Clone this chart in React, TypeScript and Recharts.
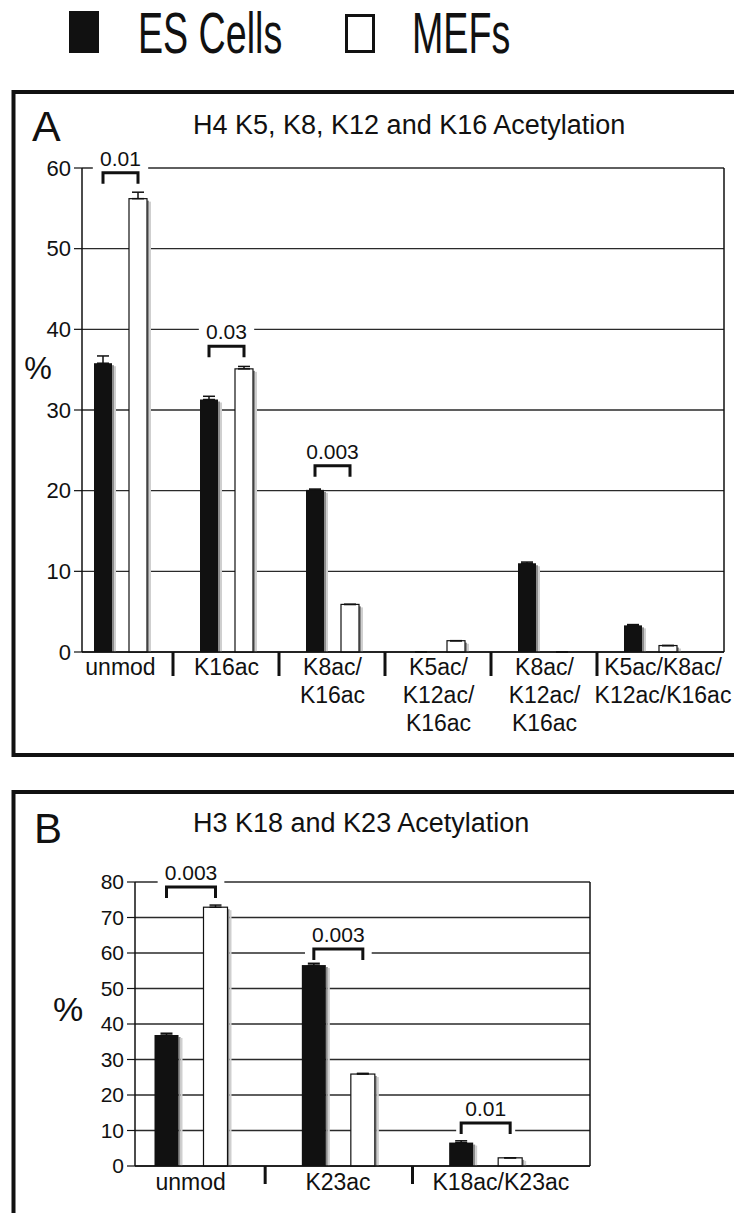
import React from 'react'
import { BarChart, Bar, XAxis, YAxis, CartesianGrid, ErrorBar } from 'recharts'

// ─── Shared look ─────────────────────────────────────────────────────────────

const FONT = '"Liberation Sans", Arial, Helvetica, sans-serif'
const INK = '#111'
const GRID = '#2a2a2a'

// ─── Panel A: H4 K5, K8, K12 and K16 acetylation ─────────────────────────────

const catsA = [
  'unmod',
  'K16ac',
  'K8ac/\nK16ac',
  'K5ac/\nK12ac/\nK16ac',
  'K8ac/\nK12ac/\nK16ac',
  'K5ac/K8ac/\nK12ac/K16ac',
]
const esA = [35.8, 31.3, 20.1, 0, 11.0, 3.3]
const esErrA = [0.9, 0.4, 0.1, 0, 0.15, 0.1]
const mefA = [56.2, 35.1, 5.9, 1.4, 0, 0.8]
const mefErrA = [0.8, 0.3, 0, 0, 0, 0]
const pA = ['0.01', '0.03', '0.003', null, null, null]
const bracketA = [59.4, 37.9, 23.1, null, null, null] // height of the p-value bracket
const ticksA = [0, 10, 20, 30, 40, 50, 60]

// ─── Panel B: H3 K18 and K23 acetylation ─────────────────────────────────────

const catsB = ['unmod', 'K23ac', 'K18ac/K23ac']
const esB = [36.9, 56.6, 6.6]
const esErrB = [0.5, 0.5, 0.5]
const mefB = [72.9, 25.9, 2.3]
const mefErrB = [0.6, 0.2, 0]
const pB = ['0.003', '0.003', '0.01']
const bracketB = [78.6, 61.1, 12.1]
const ticksB = [0, 10, 20, 30, 40, 50, 60, 70, 80]

// ─── Helpers ─────────────────────────────────────────────────────────────────

interface Row {
  cat: string
  es: number
  esErr: number
  mef: number
  mefErr: number
  sig: number | null
  p: string | null
}

function buildRows(
  cats: string[],
  es: number[],
  esErr: number[],
  mef: number[],
  mefErr: number[],
  sig: (number | null)[],
  p: (string | null)[],
): Row[] {
  return cats.map((cat, i) => ({
    cat,
    es: es[i],
    esErr: esErr[i],
    mef: mef[i],
    mefErr: mefErr[i],
    sig: sig[i],
    p: p[i],
  }))
}

// bar with the soft grey drop shadow on its right side
function ShadedBar(props: any) {
  const { x, y, width, height, fill } = props
  if (!height || height <= 0 || isNaN(y)) return null
  const isWhite = fill !== INK
  return (
    <g>
      <rect x={x + width} y={y + 2} width={2} height={Math.max(0, height - 2)} fill="#8c8c8c" />
      <rect x={x + width + 2} y={y + 3} width={2} height={Math.max(0, height - 3)} fill="#cfcfcf" />
      <rect
        x={x}
        y={y}
        width={width}
        height={height}
        fill={fill}
        stroke={isWhite ? INK : 'none'}
        strokeWidth={isWhite ? 1.2 : 0}
      />
    </g>
  )
}

// the third (invisible) bar slot carries the significance bracket
function makeBracket(barSize: number, gap: number, legH: number) {
  return function Bracket(props: any) {
    const { x, y, payload } = props
    if (!payload || payload.sig == null || !payload.p || isNaN(y)) return null
    const left = x - 2 * (barSize + gap) + barSize / 2
    const right = x - (barSize + gap) + barSize / 2
    const mid = (left + right) / 2
    const fs = 21
    const tw = payload.p.length * fs * 0.54
    const boxL = Math.min(left, mid - tw / 2) - 5
    const boxR = Math.max(right, mid + tw / 2) + 5
    const boxT = y - 8 - fs * 0.8
    return (
      <g>
        <rect x={boxL} y={boxT} width={boxR - boxL} height={y + legH + 1 - boxT} fill="#fff" />
        <path
          d={`M${left},${y + legH}V${y}H${right}V${y + legH}`}
          fill="none"
          stroke={INK}
          strokeWidth={3}
        />
        <text x={mid} y={y - 7} textAnchor="middle" fontSize={fs} fontFamily={FONT} fill={INK}>
          {payload.p}
        </text>
      </g>
    )
  }
}

function CatTick(props: any) {
  const { x, y, payload, index, count, shift, lastShift, sepOffset, sepLen, firstDy } = props
  const lines = String(payload.value).split('\n')
  const cx = x + (index === count - 1 ? lastShift : shift)
  return (
    <g>
      <text x={cx} y={y + firstDy} textAnchor="middle" fontSize={23} fontFamily={FONT} fill={INK}>
        {lines.map((l, i) => (
          <tspan key={i} x={cx} dy={i === 0 ? 0 : 28}>
            {l}
          </tspan>
        ))}
      </text>
      {index < count - 1 && (
        <line
          x1={x + sepOffset}
          x2={x + sepOffset}
          y1={y}
          y2={y + sepLen}
          stroke={INK}
          strokeWidth={3}
        />
      )}
    </g>
  )
}

// ─── One panel chart ─────────────────────────────────────────────────────────

interface PanelProps {
  data: Row[]
  ticks: number[]
  width: number
  height: number
  margin: { top: number; right: number; bottom: number; left: number }
  yWidth: number
  xHeight: number
  xPad: number
  barSize: number
  barGap: number
  tickFont: number
  sepOffset: number
  sepLen: number
  labelShift: number
  lastShift: number
  firstDy: number
}

function Panel(p: PanelProps) {
  const max = p.ticks[p.ticks.length - 1]
  const n = p.data.length
  return (
    <BarChart
      width={p.width}
      height={p.height}
      data={p.data}
      margin={p.margin}
      barSize={p.barSize}
      barGap={p.barGap}
    >
      <CartesianGrid vertical={false} stroke={GRID} strokeWidth={1.3} />
      <XAxis
        dataKey="cat"
        height={p.xHeight}
        interval={0}
        padding={{ left: p.xPad, right: p.xPad }}
        axisLine={{ stroke: INK, strokeWidth: 1.5 }}
        tickLine={false}
        tickSize={0}
        tickMargin={0}
        tick={(t: any) => (
          <CatTick
            {...t}
            count={n}
            shift={p.labelShift}
            lastShift={p.lastShift}
            sepOffset={p.sepOffset}
            sepLen={p.sepLen}
            firstDy={p.firstDy}
          />
        )}
      />
      <YAxis
        width={p.yWidth}
        domain={[0, max]}
        ticks={p.ticks}
        interval={0}
        axisLine={{ stroke: INK, strokeWidth: 1.5 }}
        tickLine={{ stroke: INK, strokeWidth: 1.2 }}
        tickSize={8}
        tickMargin={3}
        tick={{ fontSize: p.tickFont, fill: INK, fontFamily: FONT }}
      />
      <YAxis
        yAxisId="frame"
        orientation="right"
        width={1}
        domain={[0, max]}
        tick={false}
        tickLine={false}
        axisLine={{ stroke: INK, strokeWidth: 1.5 }}
      />
      <Bar dataKey="es" fill={INK} shape={ShadedBar} isAnimationActive={false}>
        <ErrorBar
          dataKey={(d: Row) => [0, d.esErr]}
          direction="y"
          width={6}
          stroke={INK}
          strokeWidth={1.5}
        />
      </Bar>
      <Bar dataKey="mef" fill="#fff" shape={ShadedBar} isAnimationActive={false}>
        <ErrorBar
          dataKey={(d: Row) => [0, d.mefErr]}
          direction="y"
          width={6}
          stroke={INK}
          strokeWidth={1.5}
        />
      </Bar>
      <Bar
        dataKey="sig"
        fill="none"
        shape={makeBracket(p.barSize, p.barGap, 11)}
        isAnimationActive={false}
      />
    </BarChart>
  )
}

// ─── Page ────────────────────────────────────────────────────────────────────

export default function App() {
  const rowsA = buildRows(catsA, esA, esErrA, mefA, mefErrA, bracketA, pA)
  const rowsB = buildRows(catsB, esB, esErrB, mefB, mefErrB, bracketB, pB)

  return (
    <div
      style={{
        position: 'absolute',
        left: 0,
        top: 0,
        width: 734,
        height: 1213,
        background: '#fff',
        overflow: 'hidden',
        fontFamily: FONT,
      }}
    >
      <svg width={734} height={1213} style={{ position: 'absolute', left: 0, top: 0 }}>
        {/* legend */}
        <rect x={69} y={11} width={30} height={42} fill={INK} />
        <text transform="translate(138,53) scale(0.66,1)" fontSize={57} fontFamily={FONT} fill={INK}>
          ES Cells
        </text>
        <rect x={346.5} y={15.5} width={27} height={36} fill="#fff" stroke={INK} strokeWidth={3} />
        <text transform="translate(412,53) scale(0.66,1)" fontSize={57} fontFamily={FONT} fill={INK}>
          MEFs
        </text>

        {/* panel A frame */}
        <rect x={13.5} y={92} width={740} height={663} fill="none" stroke={INK} strokeWidth={4} />
        <text x={32} y={141} fontSize={43} fontFamily={FONT} fill={INK}>A</text>
        <text x={193} y={134} fontSize={27} fontFamily={FONT} fill={INK}>
          H4 K5, K8, K12 and K16 Acetylation
        </text>
        <text x={38} y={379} textAnchor="middle" fontSize={31} fontFamily={FONT} fill={INK}>%</text>

        {/* panel B frame */}
        <rect x={13.5} y={792} width={740} height={500} fill="none" stroke={INK} strokeWidth={4} />
        <text x={34} y={843} fontSize={42} fontFamily={FONT} fill={INK}>B</text>
        <text x={193} y={832} fontSize={27} fontFamily={FONT} fill={INK}>
          H3 K18 and K23 Acetylation
        </text>
        <text x={68} y={1021} textAnchor="middle" fontSize={34} fontFamily={FONT} fill={INK}>%</text>
      </svg>

      <div style={{ position: 'absolute', left: 0, top: 140 }}>
        <Panel
          data={rowsA}
          ticks={ticksA}
          width={734}
          height={620}
          margin={{ top: 28, right: 9, bottom: 0, left: 0 }}
          yWidth={82}
          xHeight={108}
          xPad={3}
          barSize={18}
          barGap={17}
          tickFont={22}
          sepOffset={35}
          sepLen={24}
          labelShift={-17.5}
          lastShift={-5}
          firstDy={23}
        />
      </div>

      <div style={{ position: 'absolute', left: 0, top: 850 }}>
        <Panel
          data={rowsB}
          ticks={ticksB}
          width={734}
          height={363}
          margin={{ top: 32, right: 143, bottom: 0, left: 0 }}
          yWidth={135}
          xHeight={47}
          xPad={6.5}
          barSize={24}
          barGap={25}
          tickFont={21}
          sepOffset={50}
          sepLen={18}
          labelShift={-24.5}
          lastShift={-9}
          firstDy={24}
        />
      </div>
    </div>
  )
}
